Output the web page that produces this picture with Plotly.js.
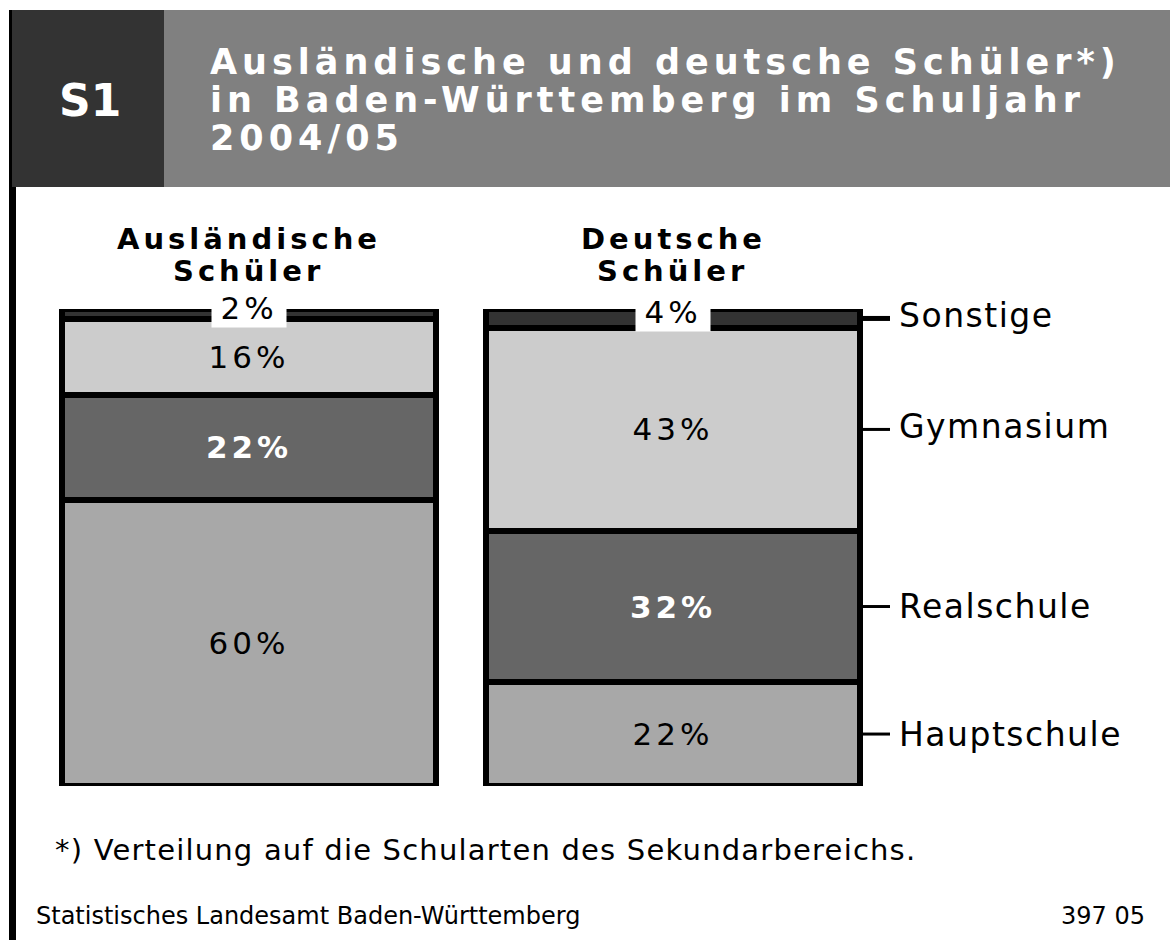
<!DOCTYPE html>
<html>
<head>
<meta charset="utf-8">
<script src="https://cdn.plot.ly/plotly-3.0.1.min.js"></script>
<style>html,body{margin:0;padding:0;background:#fff;}#chart{width:1170px;height:940px;}</style>
</head>
<body>
<div id="chart"></div>
<script>
// ---- Data ----
const categories = ['Ausländische Schüler', 'Deutsche Schüler'];
const headerLines = [['Ausländische', 'Schüler'], ['Deutsche', 'Schüler']];
const schularten = ['Hauptschule', 'Realschule', 'Gymnasium', 'Sonstige'];
const hauptschule = [60, 22];
const realschule = [22, 32];
const gymnasium = [16, 43];
const sonstige = [2, 4];
const titleLines = ['Ausländische und deutsche Schüler*)', 'in Baden-Württemberg im Schuljahr', '2004/05'];
const chartId = 'S1';
const footnote = '*) Verteilung auf die Schularten des Sekundarbereichs.';
const source = 'Statistisches Landesamt Baden-Württemberg';
const code = '397 05';

// ---- Layout helpers ----
const W = 1170, Hh = 940;
const M = {l: 37, r: 285, t: 309, b: 154};
const PW = W - M.l - M.r, PH = Hh - M.t - M.b;
const px = p => (p - M.l) / PW;
const py = p => (Hh - M.b - p) / PH;
const FONT = 'DejaVu Sans, Verdana, sans-serif';
const BARGAP = 0.117;

const series = [hauptschule, realschule, gymnasium, sonstige];
const fills = ['#a8a8a8', '#666666', '#cccccc', '#333333'];
const textColors = ['#000', '#fff', '#000', '#000'];
const textWeights = ['normal', 'bold', 'normal', 'normal'];

const traces = series.map((vals, i) => ({
  type: 'bar',
  name: schularten[i],
  x: categories,
  y: vals,
  text: vals.map(v => v + '%'),
  textposition: i === 3 ? 'none' : 'inside',
  insidetextanchor: 'middle',
  textangle: 0,
  constraintext: 'none',
  textfont: {family: FONT, size: 31, color: textColors[i], weight: textWeights[i]},
  marker: {color: fills[i], line: {color: '#000', width: 6}},
  hoverinfo: 'skip'
}));

// normalized cumulative positions (barnorm percent)
const totals = categories.map((c, j) => series.reduce((s, a) => s + a[j], 0));
function segMid(j, i) {
  let below = 0;
  for (let k = 0; k < i; k++) below += series[k][j];
  return (below + series[i][j] / 2) / totals[j] * 100;
}

const shapes = [
  {type: 'rect', xref: 'paper', yref: 'paper', x0: px(12), x1: px(164), y0: py(10), y1: py(187), fillcolor: '#333333', line: {width: 0}},
  {type: 'rect', xref: 'paper', yref: 'paper', x0: px(164), x1: px(1170), y0: py(10), y1: py(187), fillcolor: '#808080', line: {width: 0}},
  {type: 'rect', xref: 'paper', yref: 'paper', x0: px(9), x1: px(12), y0: py(10), y1: py(187), fillcolor: '#000', line: {width: 0}},
  {type: 'rect', xref: 'paper', yref: 'paper', x0: px(9), x1: px(16), y0: py(187), y1: py(940), fillcolor: '#000', line: {width: 0}}
];

const annotations = [];
const spacing = []; // letter spacing per annotation (px)
function addAnn(a, sp) { annotations.push(a); spacing.push(sp || 0); }

// header
addAnn({xref: 'paper', yref: 'paper', x: px(90), y: py(101), text: '<b>' + chartId + '</b>', showarrow: false,
  xanchor: 'center', yanchor: 'middle', font: {family: FONT, size: 44, color: '#fff'}}, 0);
const titleY = [62, 100, 138];
titleLines.forEach((t, k) => addAnn({xref: 'paper', yref: 'paper', x: px(208), y: py(titleY[k]), text: '<b>' + t + '</b>',
  showarrow: false, xanchor: 'left', align: 'left', yanchor: 'middle', font: {family: FONT, size: 35, color: '#fff'}}, 5));

// column headers
categories.forEach((c, j) => {
  headerLines[j].forEach((t, k) => addAnn({xref: 'x', yref: 'paper', x: c, y: py([239, 271][k]),
    text: '<b>' + t + '</b>', showarrow: false, xanchor: 'center', yanchor: 'middle',
    font: {family: FONT, size: 29, color: '#000'}}, 4));
});

// Sonstige labels on top (white box)
categories.forEach((c, j) => addAnn({xref: 'x', yref: 'y', x: c, y: segMid(j, 3), yshift: 6,
  text: sonstige[j] + '%', showarrow: false, xanchor: 'center', yanchor: 'middle', bgcolor: '#fff',
  width: 72, borderpad: 1, font: {family: FONT, size: 31, color: '#000'}}, 4));

// right-side labels with leader lines
const edgeX = (1 + 0.5) / 2 + (1 - BARGAP) / 4; // paper x of right bar edge
schularten.forEach((s, i) => {
  const y = segMid(1, i);
  shapes.push({type: 'line', xref: 'paper', yref: 'y', x0: edgeX, x1: px(890), y0: y, y1: y,
    line: {color: '#000', width: i === 3 ? 5 : 3}});
  addAnn({xref: 'paper', yref: 'y', x: px(897), y: y, yshift: (i >= 2 ? 3 : 0), text: s, showarrow: false,
    xanchor: 'left', align: 'left', yanchor: 'middle', font: {family: FONT, size: 33, color: '#000'}}, 1.5);
});

// footer
addAnn({xref: 'paper', yref: 'paper', x: px(53), y: py(850), text: footnote, showarrow: false,
  xanchor: 'left', align: 'left', yanchor: 'middle', font: {family: FONT, size: 29, color: '#000'}}, 1.2);
addAnn({xref: 'paper', yref: 'paper', x: px(34), y: py(916), text: source, showarrow: false,
  xanchor: 'left', align: 'left', yanchor: 'middle', font: {family: FONT, size: 24, color: '#000'}}, 0);
addAnn({xref: 'paper', yref: 'paper', x: px(1147), y: py(916), text: code, showarrow: false,
  xanchor: 'right', yanchor: 'middle', font: {family: FONT, size: 24, color: '#000'}}, 0);

const layout = {
  width: W, height: Hh,
  margin: M,
  paper_bgcolor: '#fff', plot_bgcolor: '#fff',
  barmode: 'stack', barnorm: 'percent', bargap: BARGAP,
  showlegend: false,
  xaxis: {type: 'category', range: [-0.5, 1.5], visible: false, fixedrange: true},
  yaxis: {range: [0, 100], visible: false, fixedrange: true},
  shapes: shapes,
  annotations: annotations,
  font: {family: FONT}
};

const gd = document.getElementById('chart');
Plotly.newPlot(gd, traces, layout, {displayModeBar: false, staticPlot: true}).then(() => {
  gd.querySelectorAll('g.annotation').forEach(g => {
    const i = +g.getAttribute('data-index');
    const t = g.querySelector('text.annotation-text');
    if (t && spacing[i]) t.style.letterSpacing = spacing[i] + 'px';
  });
  gd.querySelectorAll('text.bartext').forEach(t => { t.style.letterSpacing = '4px'; });
});
</script>
</body>
</html>
